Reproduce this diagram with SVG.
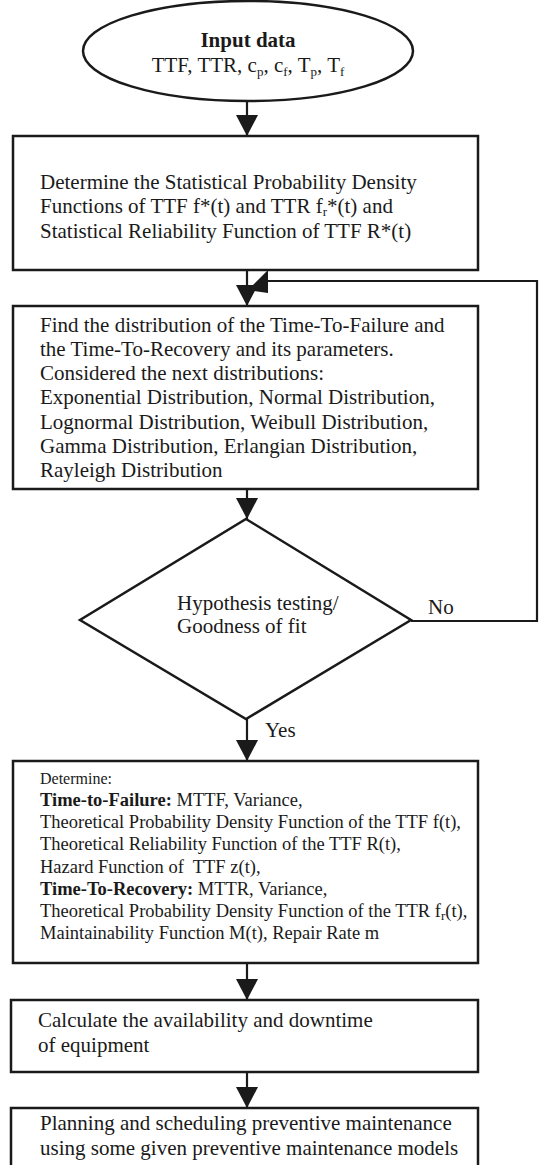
<svg xmlns="http://www.w3.org/2000/svg" width="539" height="1165" viewBox="0 0 539 1165">
<style>
.bg{fill:#fff}
.shape{fill:#fff;stroke:#1a1a1a;stroke-width:2.5}
.conn{fill:none;stroke:#1a1a1a;stroke-width:2.2}
.t{font-family:"Liberation Serif","Times New Roman",serif;font-size:21px;fill:#1a1a1a}
.s{font-family:"Liberation Serif","Times New Roman",serif;font-size:18.5px;fill:#1a1a1a}
.b{font-weight:bold}
.sub{font-size:13px}
</style>
<defs>
<marker id="ah" markerUnits="userSpaceOnUse" markerWidth="22" markerHeight="22" refX="21" refY="11" orient="auto">
<path d="M0,0 L21,11 L0,22 z" fill="#1a1a1a"/>
</marker>
</defs>
<rect class="bg" x="0" y="0" width="539" height="1165"/>

<g id="connectors">
<line class="conn" x1="247" y1="101" x2="247" y2="136" marker-end="url(#ah)"/>
<line class="conn" x1="247" y1="270" x2="247" y2="306" marker-end="url(#ah)"/>
<line class="conn" x1="247" y1="489" x2="247" y2="519" marker-end="url(#ah)"/>
<line class="conn" x1="247" y1="719" x2="247" y2="761" marker-end="url(#ah)"/>
<line class="conn" x1="247" y1="963" x2="247" y2="1000" marker-end="url(#ah)"/>
<line class="conn" x1="247" y1="1072" x2="247" y2="1108" marker-end="url(#ah)"/>
<polyline class="conn" points="411,621 537,621 537,281 266,281"/>
<polygon points="268,270 268,293 248,290" fill="#1a1a1a"/>
<text class="t" x="428" y="614">No</text>
<text class="t" x="265" y="737">Yes</text>
</g>

<g id="input">
<ellipse class="shape" cx="248" cy="51" rx="165" ry="50"/>
<text class="t b" x="248" y="47" text-anchor="middle">Input data</text>
<text class="t" x="248" y="72" text-anchor="middle">TTF, TTR, c<tspan class="sub" dy="4">p</tspan><tspan dy="-4">, c</tspan><tspan class="sub" dy="4">f</tspan><tspan dy="-4">, T</tspan><tspan class="sub" dy="4">p</tspan><tspan dy="-4">, T</tspan><tspan class="sub" dy="4">f</tspan></text>
</g>

<g id="statistical">
<rect class="shape" x="13" y="136" width="465" height="134"/>
<text class="t" x="40" y="189">Determine the Statistical Probability Density</text>
<text class="t" x="40" y="213">Functions of TTF f*(t) and TTR f<tspan class="sub" dy="3">r</tspan><tspan dy="-3">*(t) and</tspan></text>
<text class="t" x="40" y="238">Statistical Reliability Function of TTF R*(t)</text>
</g>

<g id="distribution">
<rect class="shape" x="13" y="306" width="465" height="183"/>
<text class="t" x="40" y="332">Find the distribution of the Time-To-Failure and</text>
<text class="t" x="40" y="356">the Time-To-Recovery and its parameters.</text>
<text class="t" x="40" y="380">Considered the next distributions:</text>
<text class="t" x="40" y="404">Exponential Distribution, Normal Distribution,</text>
<text class="t" x="40" y="429">Lognormal Distribution, Weibull Distribution,</text>
<text class="t" x="40" y="453">Gamma Distribution, Erlangian Distribution,</text>
<text class="t" x="40" y="477">Rayleigh Distribution</text>
</g>

<g id="hypothesis">
<polygon class="shape" points="246,519 411,620 246,719 80,620"/>
<text class="t" x="177" y="610">Hypothesis testing/</text>
<text class="t" x="177" y="633">Goodness of fit</text>
</g>

<g id="determine">
<rect class="shape" x="13" y="761" width="465" height="202"/>
<text class="s" x="40" y="784" style="font-size:16px">Determine:</text>
<text class="s" x="40" y="806"><tspan class="b">Time-to-Failure:</tspan> MTTF, Variance,</text>
<text class="s" x="40" y="828">Theoretical Probability Density Function of the TTF f(t),</text>
<text class="s" x="40" y="850">Theoretical Reliability Function of the TTF R(t),</text>
<text class="s" x="40" y="873" xml:space="preserve">Hazard Function of  TTF z(t),</text>
<text class="s" x="40" y="895"><tspan class="b">Time-To-Recovery:</tspan> MTTR, Variance,</text>
<text class="s" x="40" y="917">Theoretical Probability Density Function of the TTR f<tspan class="sub" dy="3">r</tspan><tspan dy="-3">(t),</tspan></text>
<text class="s" x="40" y="939">Maintainability Function M(t), Repair Rate m</text>
</g>

<g id="availability">
<rect class="shape" x="11" y="1000" width="467" height="72"/>
<text class="t" x="38" y="1027">Calculate the availability and downtime</text>
<text class="t" x="38" y="1052">of equipment</text>
</g>

<g id="planning">
<rect class="shape" x="11" y="1108" width="467" height="64"/>
<text class="t" x="40" y="1130">Planning and scheduling preventive maintenance</text>
<text class="t" x="40" y="1155">using some given preventive maintenance models</text>
</g>
</svg>
